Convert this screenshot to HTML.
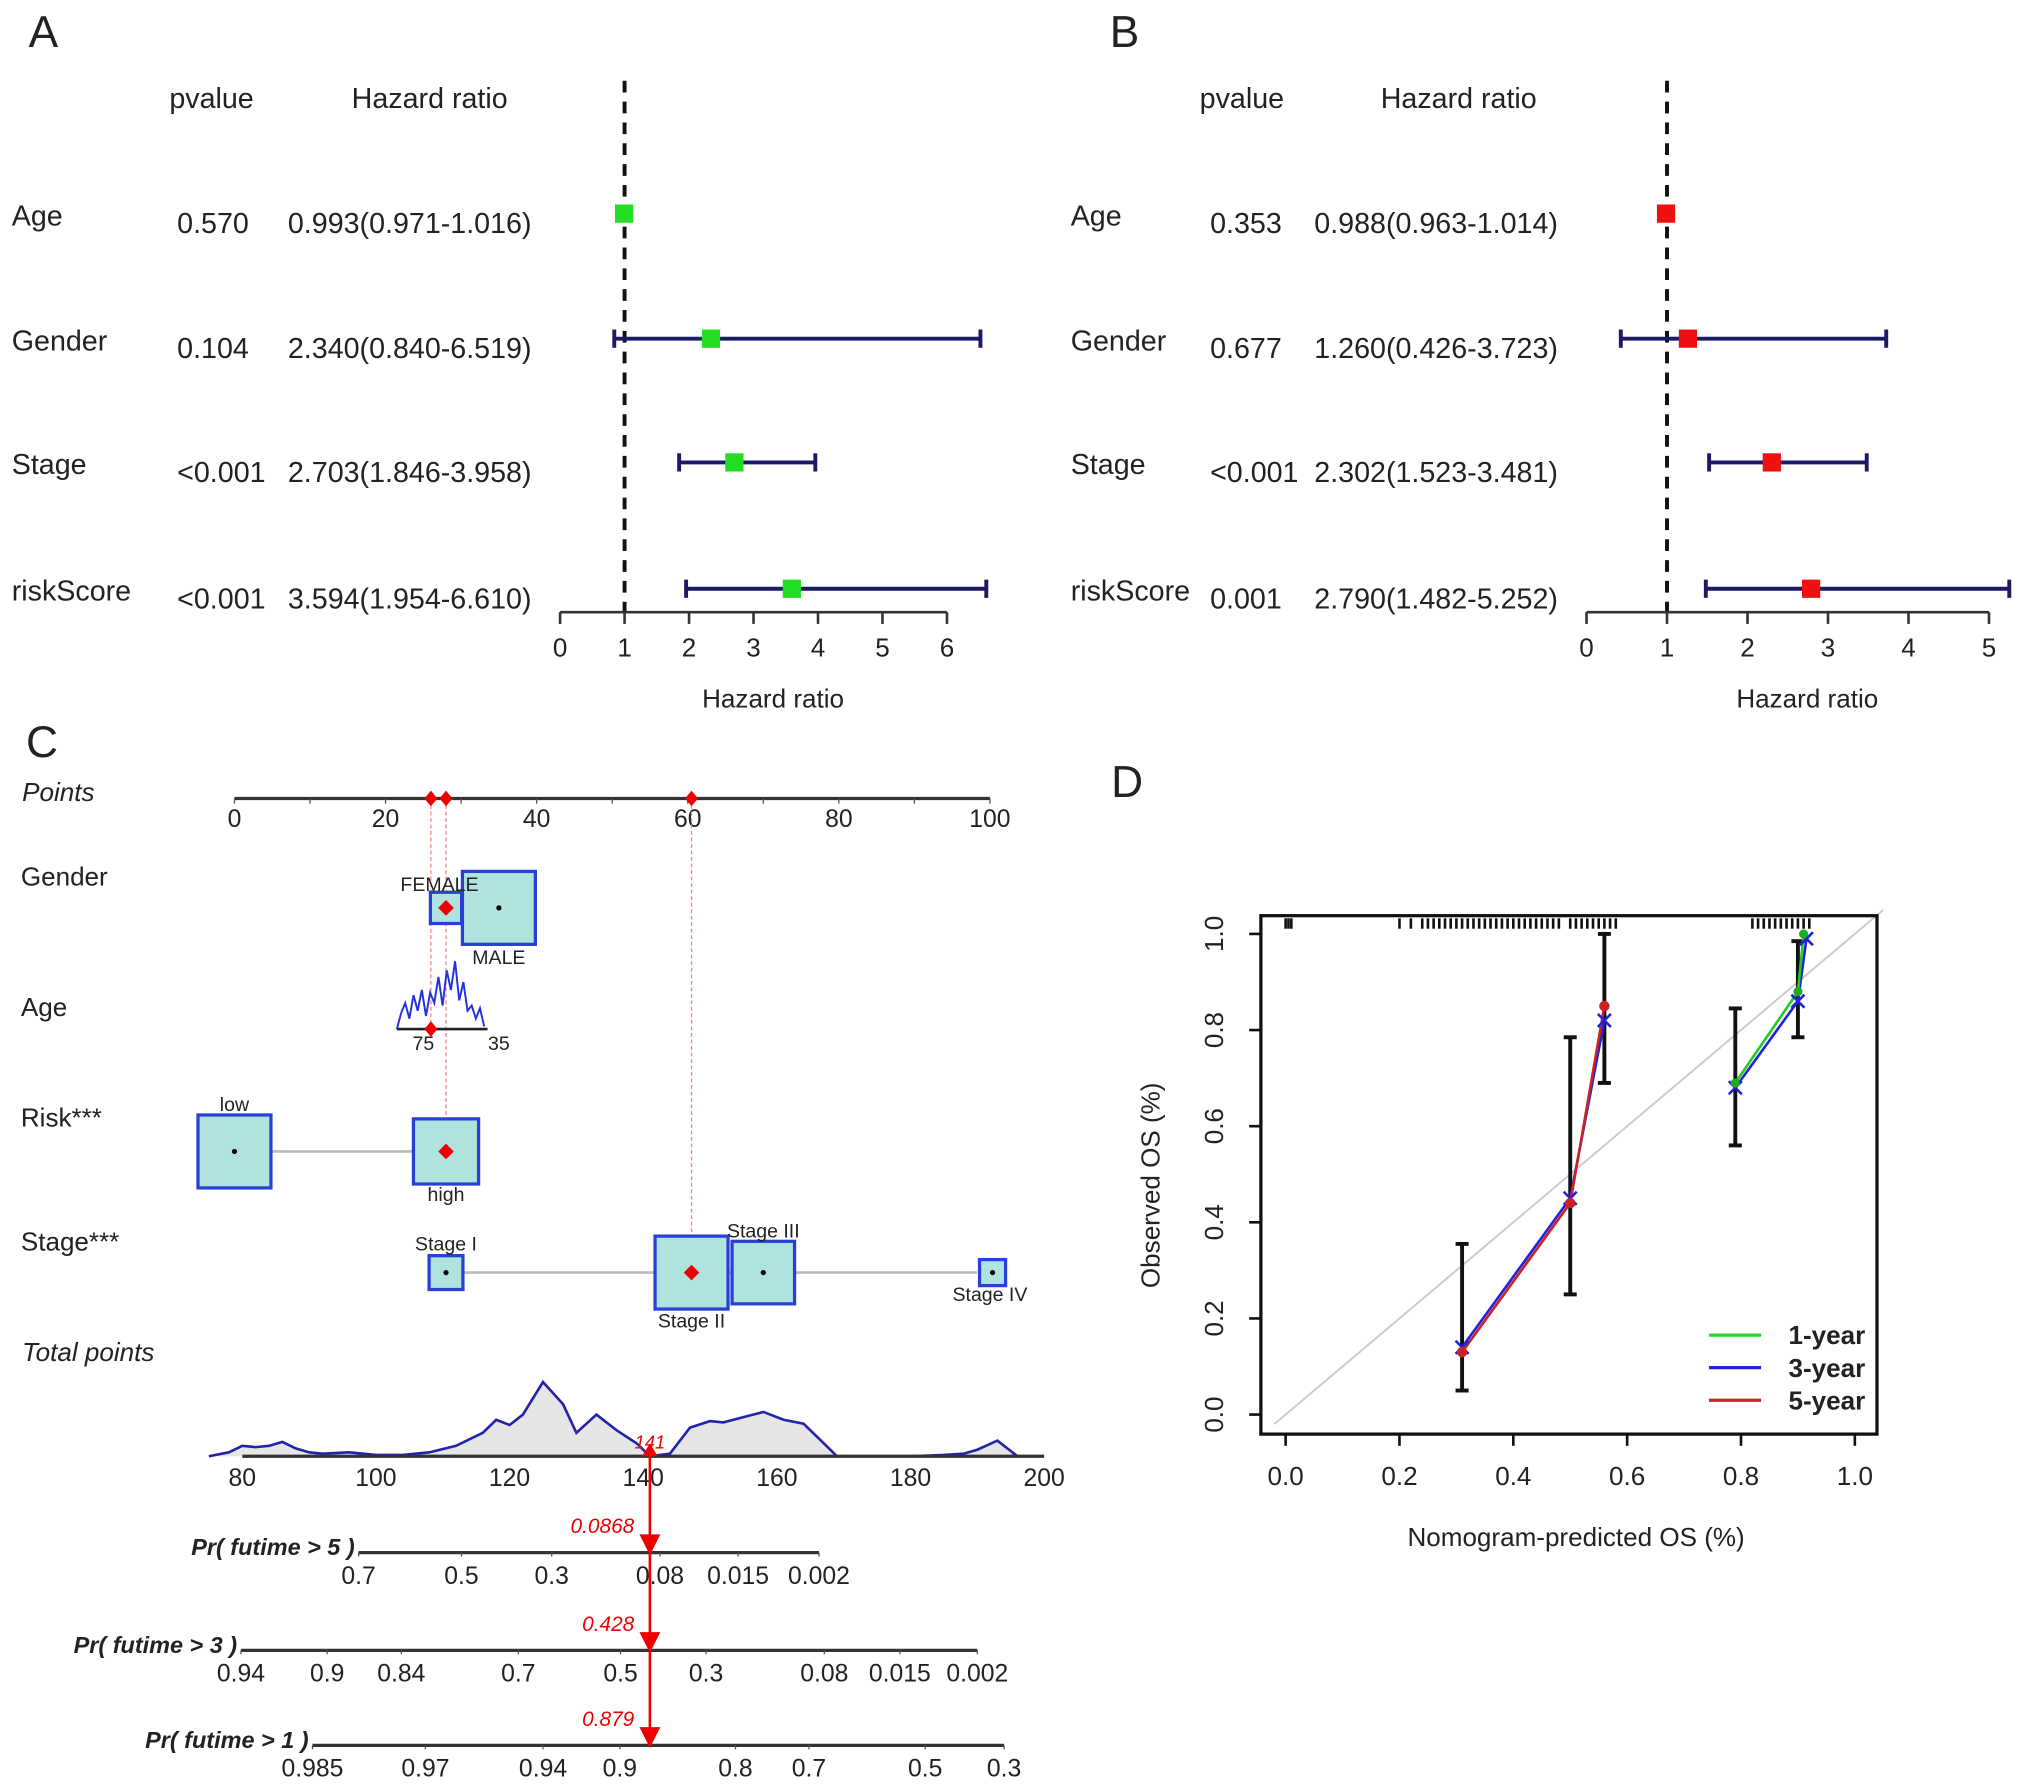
<!DOCTYPE html>
<html><head><meta charset="utf-8"><style>
html,body{margin:0;padding:0;background:#fff}
svg{display:block}
text{font-family:"Liberation Sans",Arial,sans-serif}
</style></head><body>
<svg id="s" width="2032" height="1791" viewBox="0 0 1560 1375" xmlns="http://www.w3.org/2000/svg">
<g id="A"></g>
<g id="B"></g>
<g id="C"></g>
<g id="D"></g>
</svg>
<script>
// ---- Forest data ----
const forestVars=["Age","Gender","Stage","riskScore"];
const aP=["0.570","0.104","<0.001","<0.001"];
const aHR=[0.993,2.340,2.703,3.594];
const aLo=[0.971,0.840,1.846,1.954];
const aHi=[1.016,6.519,3.958,6.610];
const bP=["0.353","0.677","<0.001","0.001"];
const bHR=[0.988,1.260,2.302,2.790];
const bLo=[0.963,0.426,1.523,1.482];
const bHi=[1.014,3.723,3.481,5.252];
const aTicks=[0,1,2,3,4,5,6];
const bTicks=[0,1,2,3,4,5];
// ---- Nomogram data ----
const pointTicks=[0,20,40,60,80,100];
const totalTicks=[80,100,120,140,160,180,200];
const totDensX=[75,78,80,82,84,86,88,90,92,96,100,104,108,112,116,118,120,122,125,128,130,133,136,139,141,144,147,150,152,155,158,161,164,167,169,175,180,185,188,190,193,196,198];
const totDensY=[0,3,8,7,8,11,6,3,2,3,1,1,3,8,18,28,24,32,57,40,18,32,20,10,0,2,22,27,26,30,34,28,25,10,0,0,0,1,2,5,12,0,0];
const totalValue=141;
const pr5Labels=["0.7","0.5","0.3","0.08","0.015","0.002"];
const pr5Pos=[17.6,33,46.5,62.7,74.4,86.5];
const pr3Labels=["0.94","0.9","0.84","0.7","0.5","0.3","0.08","0.015","0.002"];
const pr3Pos=[0,12.9,24,41.5,56.8,69.6,87.3,98.6,110.2];
const pr1Labels=["0.985","0.97","0.94","0.9","0.8","0.7","0.5","0.3"];
const pr1Pos=[10.7,27.6,45.2,56.7,74,85,102.4,114.2];
const prValues=["0.0868","0.428","0.879"];
// ---- Calibration data ----
const calX5=[0.31,0.50,0.56], calY5=[0.13,0.44,0.85];
const calX3=[0.31,0.50,0.56], calY3=[0.14,0.45,0.82];
const calX1=[0.79,0.90,0.91], calY1=[0.69,0.88,1.00];
const calX3b=[0.79,0.90,0.915], calY3b=[0.68,0.86,0.99];
const errX=[0.31,0.50,0.56,0.79,0.90];
const errLo=[0.05,0.25,0.69,0.56,0.785];
const errHi=[0.355,0.785,1.0,0.845,0.985];
const rugX=[0.0,0.005,0.01,0.2,0.22,0.24,0.25,0.26,0.27,0.28,0.29,0.3,0.31,0.32,0.33,0.34,0.35,0.36,0.37,0.38,0.39,0.4,0.41,0.42,0.43,0.44,0.45,0.46,0.47,0.48,0.5,0.51,0.52,0.53,0.54,0.55,0.56,0.57,0.58,0.82,0.83,0.84,0.85,0.86,0.87,0.88,0.89,0.9,0.91,0.92];
const calTicks=[0,0.2,0.4,0.6,0.8,1.0];

const NS="http://www.w3.org/2000/svg";
function mk(p,t,a,txt){const e=document.createElementNS(NS,t);for(const k in a)e.setAttribute(k,a[k]);if(txt!==undefined)e.textContent=txt;p.appendChild(e);return e;}
function tx(p,x,y,s,o){o=o||{};const e=mk(p,'text',Object.assign({x:x,y:y,'font-size':o.fs||20,fill:o.fill||'#222','text-anchor':o.a||'start'},o.extra||{}),s);if(o.it)e.setAttribute('font-style','italic');if(o.b)e.setAttribute('font-weight','bold');return e;}

// cols: [letterX, varX, pHeaderX, hrHeaderX, pValX, hrValX]
function forest(g,cols,letter,P,HR,LO,HI,ticks,x0,unit,col){
  const X=v=>x0+v*unit;
  let e=tx(g,cols[0],36,letter,{fs:34});
  
  tx(g,cols[2],83,"pvalue",{fs:22});tx(g,cols[3],83,"Hazard ratio",{fs:22});
  const rows=[167,263,358,455];
  e=mk(g,'line',{x1:X(1),x2:X(1),y1:62,y2:475,stroke:'#111','stroke-width':3,'stroke-dasharray':'9,7'});
  
  for(let i=0;i<4;i++){
    const y=rows[i];
    tx(g,cols[1],y+6,forestVars[i],{fs:22});
    tx(g,cols[4],y+12,P[i],{fs:22});
    tx(g,cols[5],y+12,HR[i].toFixed(3)+"("+LO[i].toFixed(3)+"-"+HI[i].toFixed(3)+")",{fs:22});
    if(HI[i]-LO[i]>0.1){
      e=mk(g,'line',{x1:X(LO[i]),x2:X(HI[i]),y1:y-3,y2:y-3,stroke:'#1a1a66','stroke-width':3});
      
      mk(g,'line',{x1:X(LO[i]),x2:X(LO[i]),y1:y-10,y2:y+4,stroke:'#1a1a66','stroke-width':3});
      mk(g,'line',{x1:X(HI[i]),x2:X(HI[i]),y1:y-10,y2:y+4,stroke:'#1a1a66','stroke-width':3});
    }
    e=mk(g,'rect',{x:X(HR[i])-7,y:y-10,width:14,height:14,fill:col});
    
  }
  const ax=mk(g,'g',{});
  mk(ax,'line',{x1:X(ticks[0]),x2:X(ticks[ticks.length-1]),y1:470,y2:470,stroke:'#333','stroke-width':2});
  ticks.forEach(t=>{mk(ax,'line',{x1:X(t),x2:X(t),y1:470,y2:479,stroke:'#333','stroke-width':2});tx(ax,X(t),504,String(t),{fs:20,a:'middle'});});
  e=tx(g,(X(ticks[0])+X(ticks[ticks.length-1]))/2+15,543,"Hazard ratio",{fs:20,a:'middle'});
  
}
forest(document.getElementById('A'),[22,9,130,270,136,221],"A",aP,aHR,aLo,aHi,aTicks,430,49.5,'#22dd22');
forest(document.getElementById('B'),[852,822,921,1060,929,1009],"B",bP,bHR,bLo,bHi,bTicks,1218,61.8,'#ee1111');

// ---- Nomogram ----
(function(){
const g=document.getElementById('C');
const P=v=>180+v*5.8;
const T=v=>186+(v-80)*5.13;
tx(g,20,581,"C",{fs:34});
const labs=[["Points",608,1],["Gender",673,0],["Age",773,0],["Risk***",858,0],["Stage***",953,0],["Total points",1038,1]];
labs.forEach(l=>tx(g,l[1]==1038||l[1]==608?17:16,l[1]+7,l[0],{fs:20,it:l[2]}));
const pa=mk(g,'g',{});
mk(pa,'line',{x1:P(0),x2:P(100),y1:613,y2:613,stroke:'#333','stroke-width':2.5});
for(let v=0;v<=100;v+=10)mk(pa,'line',{x1:P(v),x2:P(v),y1:613,y2:617,stroke:'#555','stroke-width':1});
pointTicks.forEach(t=>tx(pa,P(t),635,String(t),{fs:19,a:'middle'}));
[[26,613,790],[28,613,884],[60.5,613,977]].forEach(d=>mk(g,'line',{x1:P(d[0]),x2:P(d[0]),y1:d[1],y2:d[2],stroke:'#e88','stroke-width':1,'stroke-dasharray':'3,2'}));
[26,28,60.5].forEach(v=>mk(g,'path',{d:`M${P(v)-5},613 L${P(v)},607 L${P(v)+5},613 L${P(v)},619 Z`,fill:'#e00'}));
function box(cx,cy,s,red,nm){const e=mk(g,'rect',{x:cx-s/2,y:cy-s/2,width:s,height:s,fill:'#aee3de',stroke:'#2a3fd6','stroke-width':2.5});
 if(red)mk(g,'path',{d:`M${cx-6},${cy} L${cx},${cy-6} L${cx+6},${cy} L${cx},${cy+6} Z`,fill:'#e00'});else mk(g,'circle',{cx:cx,cy:cy,r:2,fill:'#000'});}
box(P(35),697,56,false,'gender-male-box');box(P(28),697,24,true,'gender-female-box');
tx(g,P(28)-35,684,"FEMALE",{fs:15});tx(g,P(35),740,"MALE",{fs:15,a:'middle'});
const ageY=[0,12,20,8,26,14,30,10,28,20,40,18,45,30,52,22,36,14,18,8,16,2];
let d=`M${P(21.5)},790`;ageY.forEach((v,i)=>{d+=` L${P(21.5+i*0.55)},${790-v}`;});
mk(g,'path',{d:d,fill:'none',stroke:'#2233dd','stroke-width':1.5});
mk(g,'line',{x1:P(21.5),x2:P(33.5),y1:790,y2:790,stroke:'#222','stroke-width':2});
mk(g,'path',{d:`M${P(26)-5},790 L${P(26)},784 L${P(26)+5},790 L${P(26)},796 Z`,fill:'#e00'});
tx(g,P(25),806,"75",{fs:15,a:'middle'});tx(g,P(35),806,"35",{fs:15,a:'middle'});
mk(g,'line',{x1:P(0)+28,x2:P(28)-25,y1:884,y2:884,stroke:'#bbb','stroke-width':2});
box(P(0),884,56,false,'risk-low-box');box(P(28),884,50,true,'risk-high-box');
tx(g,P(0),853,"low",{fs:15,a:'middle'});tx(g,P(28),922,"high",{fs:15,a:'middle'});
mk(g,'line',{x1:P(28)+13,x2:P(100)-10,y1:977,y2:977,stroke:'#bbb','stroke-width':2});
box(P(28),977,26,false,'stage-1-box');box(P(60.5),977,56,true,'stage-2-box');box(P(70),977,48,false,'stage-3-box');box(P(100)+2,977,20,false,'stage-4-box');
tx(g,P(28),960,"Stage I",{fs:15,a:'middle'});tx(g,P(60.5),1019,"Stage II",{fs:15,a:'middle'});tx(g,P(70),950,"Stage III",{fs:15,a:'middle'});tx(g,P(100),999,"Stage IV",{fs:15,a:'middle'});
const base=1118;
let dd=`M${T(totDensX[0])},${base}`;totDensX.forEach((x,i)=>{dd+=` L${T(x)},${base-totDensY[i]}`;});
mk(g,'path',{d:dd+` L${T(totDensX[totDensX.length-1])},${base} Z`,fill:'#e6e6e6',stroke:'none'});
const dl=mk(g,'path',{d:dd,fill:'none',stroke:'#2222aa','stroke-width':2});

mk(g,'line',{x1:T(80),x2:T(200),y1:base,y2:base,stroke:'#333','stroke-width':2.5});
totalTicks.forEach(t=>tx(g,T(t),1141,String(t),{fs:19,a:'middle'}));
const rx=T(totalValue);
function prAxis(y,labels,pos,name,lab,val){
 const ga=mk(g,'g',{});
 const X=p=>185+p*5.13;
 mk(ga,'line',{x1:X(pos[0]),x2:X(pos[pos.length-1]),y1:y,y2:y,stroke:'#333','stroke-width':2.5});
 labels.forEach((l,i)=>{mk(ga,'line',{x1:X(pos[i]),x2:X(pos[i]),y1:y,y2:y+3,stroke:'#555'});tx(ga,X(pos[i]),y+24,l,{fs:19,a:'middle'});});
 const t=tx(ga,X(pos[0])-3,y+2,lab,{fs:18,it:1,a:'end'});t.setAttribute('font-weight','600');
 tx(ga,rx-12,y-15,val,{fs:16,it:1,fill:'#e00',a:'end'});
 mk(ga,'path',{d:`M${rx-8},${y-14} L${rx+8},${y-14} L${rx},${y+2} Z`,fill:'#e00'});
}
mk(g,'line',{x1:rx,x2:rx,y1:1110,y2:1340,stroke:'#e00','stroke-width':2});
mk(g,'path',{d:`M${rx-6},1118 L${rx},1108 L${rx+6},1118 Z`,fill:'#e00'});
tx(g,rx,1112,"141",{fs:14,it:1,fill:'#e00',a:'middle'});
prAxis(1192,pr5Labels,pr5Pos,'pr-5-year-axis',"Pr( futime > 5 )",prValues[0]);
prAxis(1267,pr3Labels,pr3Pos,'pr-3-year-axis',"Pr( futime > 3 )",prValues[1]);
prAxis(1340,pr1Labels,pr1Pos,'pr-1-year-axis',"Pr( futime > 1 )",prValues[2]);
})();

// ---- Calibration ----
(function(){
const g=document.getElementById('D');
const X=v=>987+v*437, Y=v=>1086-v*369;
tx(g,853,612,"D",{fs:34});
let e=mk(g,'line',{x1:X(-0.02),y1:Y(-0.02),x2:X(1.05),y2:Y(1.05),stroke:'#ccc','stroke-width':1.5});

rugX.forEach(v=>mk(g,'line',{x1:X(v),x2:X(v),y1:705,y2:713,stroke:'#111','stroke-width':2}));
function series(xs,ys,col,nm){let d='';xs.forEach((x,i)=>d+=(i?' L':'M')+X(x)+','+Y(ys[i]));const p=mk(g,'path',{d:d,fill:'none',stroke:col,'stroke-width':2});}
errX.forEach((x,i)=>{const b=mk(g,'g',{});
 mk(b,'line',{x1:X(x),x2:X(x),y1:Y(errLo[i]),y2:Y(errHi[i]),stroke:'#111','stroke-width':3});
 mk(b,'line',{x1:X(x)-5,x2:X(x)+5,y1:Y(errLo[i]),y2:Y(errLo[i]),stroke:'#111','stroke-width':3});
 mk(b,'line',{x1:X(x)-5,x2:X(x)+5,y1:Y(errHi[i]),y2:Y(errHi[i]),stroke:'#111','stroke-width':3});});
series(calX3,calY3,'#2222dd','line-3-year');series(calX5,calY5,'#cc2222','line-5-year');
series(calX3b,calY3b,'#2222dd','line-3-year-b');series(calX1,calY1,'#22cc22','line-1-year');
function xm(x,y,c){mk(g,'path',{d:`M${X(x)-5},${Y(y)-5} L${X(x)+5},${Y(y)+5} M${X(x)+5},${Y(y)-5} L${X(x)-5},${Y(y)+5}`,stroke:c,'stroke-width':2});}
calX3.forEach((x,i)=>xm(x,calY3[i],'#2222dd'));calX3b.forEach((x,i)=>xm(x,calY3b[i],'#2222dd'));
calX5.forEach((x,i)=>mk(g,'circle',{cx:X(x),cy:Y(calY5[i]),r:4,fill:'#cc2222'}));
calX1.forEach((x,i)=>mk(g,'circle',{cx:X(x),cy:Y(calY1[i]),r:3.5,fill:'#22aa22'}));
e=mk(g,'rect',{x:968,y:703,width:473,height:398,fill:'none',stroke:'#111','stroke-width':2.5});

calTicks.forEach(t=>{mk(g,'line',{x1:X(t),x2:X(t),y1:1101,y2:1110,stroke:'#111','stroke-width':2});tx(g,X(t),1140,t.toFixed(1),{fs:20,a:'middle'});
 mk(g,'line',{x1:959,x2:968,y1:Y(t),y2:Y(t),stroke:'#111','stroke-width':2});tx(g,0,0,t.toFixed(1),{fs:20,a:'middle',extra:{transform:`translate(939,${Y(t)}) rotate(-90)`}});});
e=tx(g,1210,1187,"Nomogram-predicted OS (%)",{fs:20,a:'middle'});
e=tx(g,0,0,"Observed OS (%)",{fs:20,a:'middle',extra:{transform:'translate(890,910) rotate(-90)'}});
const lg=mk(g,'g',{});
[["1-year",'#22dd22',1025],["3-year",'#2222dd',1050],["5-year",'#cc2222',1075]].forEach(l=>{mk(lg,'line',{x1:1312,x2:1352,y1:l[2],y2:l[2],stroke:l[1],'stroke-width':2.5});tx(lg,1432,l[2]+7,l[0],{fs:20,a:'end',b:1});});
})();
</script>
</body></html>
